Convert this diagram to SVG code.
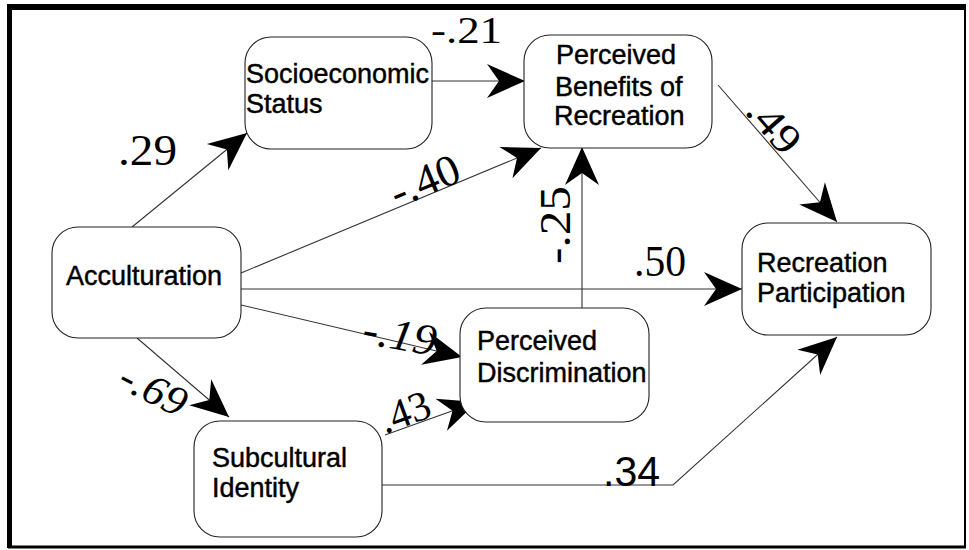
<svg xmlns="http://www.w3.org/2000/svg" width="969" height="550" viewBox="0 0 969 550">
<style>
.box{fill:#fff;stroke:#222;stroke-width:1.1}
.lbl{font-family:"Liberation Sans",Arial,sans-serif;font-size:27px;fill:#000;stroke:#000;stroke-width:0.45}
.num{font-family:"Liberation Serif","Times New Roman",serif;fill:#000}
.edge{fill:none;stroke:#333;stroke-width:1.1}
</style>
<defs>
<marker id="ah" viewBox="-40 -18 40 36" refX="0" refY="0" markerWidth="40" markerHeight="36" markerUnits="userSpaceOnUse" orient="auto">
<path d="M0,0 L-38,-17 L-26,0 L-38,17 Z" fill="#000"/>
</marker>
</defs>
<rect width="969" height="550" fill="#fff"/>
<g id="frame">
<line x1="7" y1="7" x2="966" y2="7" stroke="#000" stroke-width="6"/>
<line x1="9.5" y1="5" x2="9.5" y2="548" stroke="#000" stroke-width="5"/>
<line x1="8" y1="547" x2="966" y2="547" stroke="#000" stroke-width="3"/>
<line x1="965" y1="5" x2="965" y2="548" stroke="#000" stroke-width="2"/>
</g>
<g id="connectors">
<line class="edge" x1="132" y1="227" x2="247" y2="133" marker-end="url(#ah)"/>
<line class="edge" x1="432" y1="81" x2="525" y2="81" marker-end="url(#ah)"/>
<line class="edge" x1="241" y1="273" x2="541" y2="148" marker-end="url(#ah)"/>
<line class="edge" x1="582" y1="308" x2="582" y2="147" marker-end="url(#ah)"/>
<line class="edge" x1="241" y1="289" x2="742" y2="289" marker-end="url(#ah)"/>
<line class="edge" x1="718" y1="85" x2="837" y2="222" marker-end="url(#ah)"/>
<line class="edge" x1="241" y1="305" x2="462" y2="357" marker-end="url(#ah)"/>
<line class="edge" x1="137" y1="338" x2="229" y2="417" marker-end="url(#ah)"/>
<line class="edge" x1="385" y1="435" x2="477" y2="402" marker-end="url(#ah)"/>
<polyline class="edge" points="382,485 673,485 837,337" marker-end="url(#ah)"/>
<text class="num" x="118" y="165" font-size="44" textLength="59" lengthAdjust="spacingAndGlyphs">.29</text>
<text class="num" x="431" y="43" font-size="38" textLength="71" lengthAdjust="spacingAndGlyphs">-.21</text>
<text class="num" font-size="44" textLength="72" lengthAdjust="spacingAndGlyphs" transform="translate(397,208) rotate(-22.6)">-.40</text>
<text class="num" font-size="44" textLength="78" lengthAdjust="spacingAndGlyphs" transform="translate(570,264) rotate(-90)">-.25</text>
<text class="num" x="634" y="276" font-size="44" textLength="52" lengthAdjust="spacingAndGlyphs">.50</text>
<text class="num" font-size="42" textLength="60" lengthAdjust="spacingAndGlyphs" transform="translate(744,112) rotate(49)">.49</text>
<text class="num" font-size="44" font-style="italic" textLength="74" lengthAdjust="spacingAndGlyphs" transform="translate(361,343) rotate(10)">-.19</text>
<text class="num" font-size="42" font-style="italic" textLength="70" lengthAdjust="spacingAndGlyphs" transform="translate(116,386) rotate(27)">-.69</text>
<text class="num" font-size="42" textLength="52" lengthAdjust="spacingAndGlyphs" transform="translate(385,434) rotate(-20)">.43</text>
<text x="603" y="486" font-family="'Liberation Sans',Arial,sans-serif" font-size="43" textLength="57" lengthAdjust="spacingAndGlyphs">.34</text>
</g>
<g id="ses">
<rect class="box" x="245" y="37" width="187" height="112" rx="26"/>
<text class="lbl" x="246" y="83">Socioeconomic</text>
<text class="lbl" x="246" y="113">Status</text>
</g>
<g id="pbr">
<rect class="box" x="524" y="35" width="188" height="113" rx="26"/>
<text class="lbl" x="556" y="64">Perceived</text>
<text class="lbl" x="555" y="96">Benefits of</text>
<text class="lbl" x="554" y="125">Recreation</text>
</g>
<g id="rp">
<rect class="box" x="742" y="223" width="189" height="112" rx="26"/>
<text class="lbl" x="757" y="272">Recreation</text>
<text class="lbl" x="757" y="302">Participation</text>
</g>
<g id="acc">
<rect class="box" x="52" y="227" width="189" height="111" rx="26"/>
<text class="lbl" x="66" y="285">Acculturation</text>
</g>
<g id="pd">
<rect class="box" x="460" y="308" width="189" height="114" rx="26"/>
<text class="lbl" x="477" y="350">Perceived</text>
<text class="lbl" x="477" y="382">Discrimination</text>
</g>
<g id="sub">
<rect class="box" x="194" y="421" width="188" height="116" rx="26"/>
<text class="lbl" x="212" y="467">Subcultural</text>
<text class="lbl" x="212" y="497">Identity</text>
</g>
</svg>
